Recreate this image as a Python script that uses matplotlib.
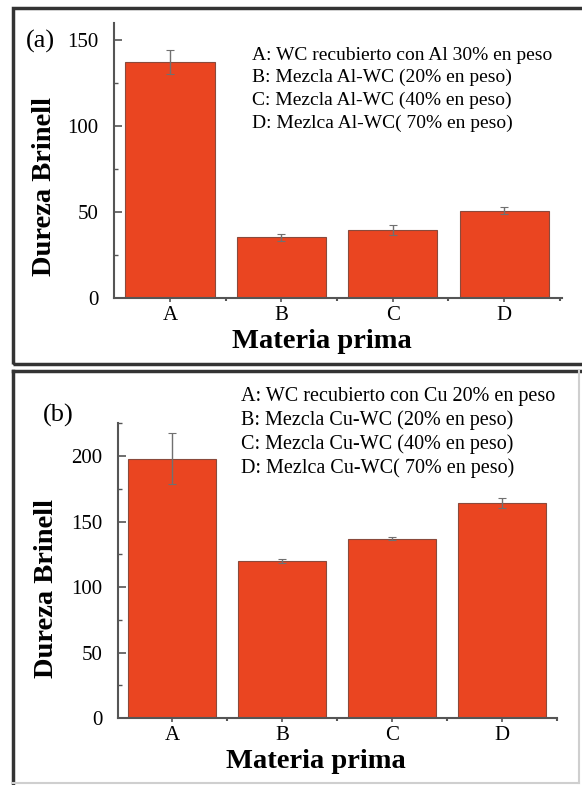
import matplotlib
matplotlib.use("Agg")
import matplotlib.pyplot as plt
from matplotlib.patches import Rectangle
from matplotlib.lines import Line2D
from matplotlib.ticker import MultipleLocator

# data
categories = ["A", "B", "C", "D"]
hardness_al = [137.3, 35.0, 39.5, 50.5]
err_al = [7.0, 2.0, 3.0, 2.0]
hardness_cu = [198.0, 120.0, 137.0, 164.0]
err_cu = [19.5, 1.5, 1.0, 4.0]
legend_al = [
    "A: WC recubierto con Al 30% en peso",
    "B: Mezcla Al-WC (20% en peso)",
    "C: Mezcla Al-WC (40% en peso)",
    "D: Mezlca Al-WC( 70% en peso)",
]
legend_cu = [
    "A: WC recubierto con Cu 20% en peso",
    "B: Mezcla Cu-WC (20% en peso)",
    "C: Mezcla Cu-WC (40% en peso)",
    "D: Mezlca Cu-WC( 70% en peso)",
]

W, H = 582, 785
SERIF = "Liberation Serif"
BAR_COLOR = "#ea4521"
BAR_EDGE = "#8a4a3c"
AXIS_COLOR = "#555555"

plt.rcParams["font.family"] = [SERIF, "DejaVu Serif"]


def px(x, y):
    # pixel position (from top-left) -> figure fraction
    return x / W, 1 - y / H


def rect(left, top, right, bottom):
    l, t = px(left, top)
    r, b = px(right, bottom)
    return [l, b, r - l, t - b]


def draw_panel(fig, box, values, errs, ylim, ymajor, xlim, legend, leg_x, leg_y0, leg_dy,
               tag, tag_xy, ylabel_xy, xlabel_xy, leg_size):
    ax = fig.add_axes(box)
    x = list(range(len(categories)))
    ax.bar(x, values, width=0.8, color=BAR_COLOR, edgecolor=BAR_EDGE, linewidth=0.8, zorder=2)
    ax.errorbar(x, values, yerr=errs, fmt="none", ecolor="#707070", elinewidth=1.0,
                capsize=3, capthick=0.8, zorder=3)
    ax.set_xlim(*xlim)
    ax.set_ylim(*ylim)
    ax.yaxis.set_major_locator(MultipleLocator(ymajor))
    ax.yaxis.set_minor_locator(MultipleLocator(ymajor / 2))
    ax.set_xticks(x)
    ax.set_xticklabels(categories)
    ax.set_xticks([i + 0.5 for i in x], minor=True)
    for s in ["top", "right"]:
        ax.spines[s].set_visible(False)
    for s in ["left", "bottom"]:
        ax.spines[s].set_color(AXIS_COLOR)
        ax.spines[s].set_linewidth(1.5)
    ax.tick_params(axis="y", which="major", direction="in", length=6, width=1.2,
                   color=AXIS_COLOR, labelsize=15, pad=11)
    ax.tick_params(axis="y", which="minor", direction="in", length=3, width=1.0, color=AXIS_COLOR)
    ax.tick_params(axis="x", which="major", direction="out", length=3, width=1.2,
                   color=AXIS_COLOR, labelsize=15, pad=3)
    ax.tick_params(axis="x", which="minor", direction="out", length=2, width=1.5, color=AXIS_COLOR)
    ax.set_facecolor("none")

    fx, fy = px(*ylabel_xy)
    fig.text(fx, fy, "Dureza Brinell", rotation=90, fontsize=20.5, fontweight="bold",
             ha="center", va="center")
    fx, fy = px(*xlabel_xy)
    fig.text(fx, fy, "Materia prima", fontsize=20.5, fontweight="bold", ha="center", va="center")
    fx, fy = px(*tag_xy)
    fig.text(fx, fy, tag, fontsize=19, ha="center", va="center")
    for i, line in enumerate(legend):
        fx, fy = px(leg_x, leg_y0 + i * leg_dy)
        fig.text(fx, fy, line, fontsize=leg_size, ha="left", va="center")
    return ax


fig = plt.figure(figsize=(W / 100, H / 100), dpi=100)

# panel frames
l, t = px(13, 8)
r, b = px(600, 364)
fig.add_artist(Rectangle((l, b), r - l, t - b, transform=fig.transFigure, fill=False,
                         edgecolor="#333333", linewidth=2.5))
l, t = px(13, 371)
r, b = px(579, 783)
fig.add_artist(Line2D([l, l], [b, t], transform=fig.transFigure, color="#333333", linewidth=2.5))
fig.add_artist(Line2D([l, 1.0], [t, t], transform=fig.transFigure, color="#333333", linewidth=2.5))
fig.add_artist(Line2D([l, r], [b, b], transform=fig.transFigure, color="#cfcfcf", linewidth=1.5))
fig.add_artist(Line2D([r, r], [b, t], transform=fig.transFigure, color="#cfcfcf", linewidth=1.5))

# (a) aluminium
draw_panel(fig, rect(114, 22.5, 562, 297.7), hardness_al, err_al, (0, 160), 50,
           (-0.503, 3.52), legend_al, 252, 55, 22.7, "(a)", (40, 41), (45, 187), (322, 342), 14)

# (b) copper
draw_panel(fig, rect(118, 423.3, 557, 718), hardness_cu, err_cu, (0, 225), 50,
           (-0.49, 3.5), legend_cu, 241, 396, 24.0, "(b)", (58, 415), (47, 588), (316, 762), 14.5)

fig.savefig("out.png", dpi=100, facecolor="white")
